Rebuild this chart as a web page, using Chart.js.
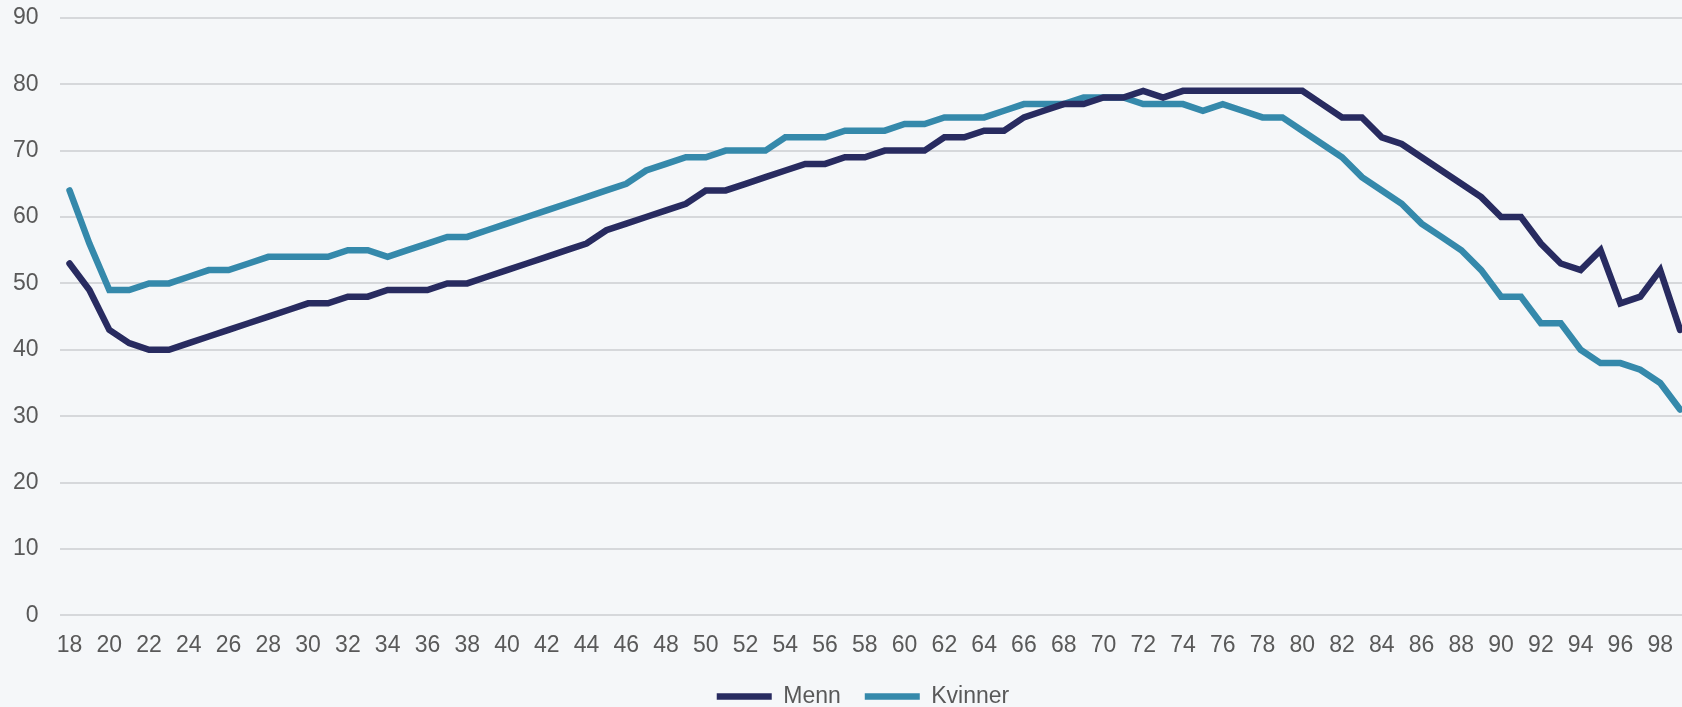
<!DOCTYPE html>
<html>
<head>
<meta charset="utf-8">
<script src="https://cdn.jsdelivr.net/npm/chart.js@4.4.1/dist/chart.umd.min.js"></script>
<style>
  html, body { margin: 0; padding: 0; background: #f5f7f9; overflow: hidden; }
  #wrap { position: absolute; left: 0; top: -17px; width: 1690px; height: 741px; }
</style>
</head>
<body>
<div id="wrap"><canvas id="chart"></canvas></div>
<script>
// ages 18..99
const ages = [];
for (let a = 18; a <= 99; a++) ages.push(String(a));

const menn = [
    53, 49, 43, 41, 40, 40, 41, 42, 43, 44,
    45, 46, 47, 47, 48, 48, 49, 49, 49, 50,
    50, 51, 52, 53, 54, 55, 56, 58, 59, 60,
    61, 62, 64, 64, 65, 66, 67, 68, 68, 69,
    69, 70, 70, 70, 72, 72, 73, 73, 75, 76,
    77, 77, 78, 78, 79, 78, 79, 79, 79, 79,
    79, 79, 79, 77, 75, 75, 72, 71, 69, 67,
    65, 63, 60, 60, 56, 53, 52, 55, 47, 48,
    52, 43
];

const kvinner = [
    64, 56, 49, 49, 50, 50, 51, 52, 52, 53,
    54, 54, 54, 54, 55, 55, 54, 55, 56, 57,
    57, 58, 59, 60, 61, 62, 63, 64, 65, 67,
    68, 69, 69, 70, 70, 70, 72, 72, 72, 73,
    73, 73, 74, 74, 75, 75, 75, 76, 77, 77,
    77, 78, 78, 78, 77, 77, 77, 76, 77, 76,
    75, 75, 73, 71, 69, 66, 64, 62, 59, 57,
    55, 52, 48, 48, 44, 44, 40, 38, 38, 37,
    35, 31
];

const navy = '#282b60';
const teal = '#3589ab';

Chart.defaults.font.family = '"Liberation Sans", Arial, sans-serif';
Chart.defaults.font.size = 23;
Chart.defaults.color = '#595959';

// legend sits a little right of the canvas centre in the original
const nudgeLegend = {
    id: 'nudgeLegend',
    afterLayout(chart) {
        const lg = chart.legend;
        if (!lg) return;
        lg.left += 22;
        lg.right += 22;
        lg.top -= 6;
        lg.bottom -= 6;
    }
};

const lineChart = new Chart(document.getElementById('chart'), {
    type: 'line',
    data: {
        labels: ages,
        datasets: [{
            label: 'Menn',
            data: menn,
            borderColor: navy,
            backgroundColor: navy,
            borderWidth: 6.5,
            pointRadius: 0,
            borderCapStyle: 'round',
            tension: 0
        }, {
            label: 'Kvinner',
            data: kvinner,
            borderColor: teal,
            backgroundColor: teal,
            borderWidth: 6.5,
            pointRadius: 0,
            borderCapStyle: 'round',
            tension: 0
        }]
    },
    options: {
        responsive: true,
        maintainAspectRatio: false,
        animation: false,
        layout: {
            padding: { top: 5, left: -8, right: 0, bottom: 0 }
        },
        plugins: {
            tooltip: { enabled: false },
            legend: {
                position: 'bottom',
                labels: {
                    usePointStyle: true,
                    pointStyle: 'line',
                    pointStyleWidth: 55,
                    padding: 24,
                    color: '#595959',
                    font: { size: 23 }
                }
            }
        },
        scales: {
            x: {
                offset: true,
                grid: { display: false },
                border: { display: false },
                ticks: {
                    autoSkip: false,
                    maxRotation: 0,
                    padding: 8,
                    callback: function (val, i) {
                        return i % 2 === 0 ? this.getLabelForValue(val) : '';
                    }
                }
            },
            y: {
                min: 0,
                max: 90,
                ticks: { stepSize: 10, padding: 21 },
                grid: { color: '#d6d8db', lineWidth: 2, drawTicks: false },
                border: { display: false }
            }
        }
    },
    plugins: [nudgeLegend]
});
</script>
</body>
</html>
